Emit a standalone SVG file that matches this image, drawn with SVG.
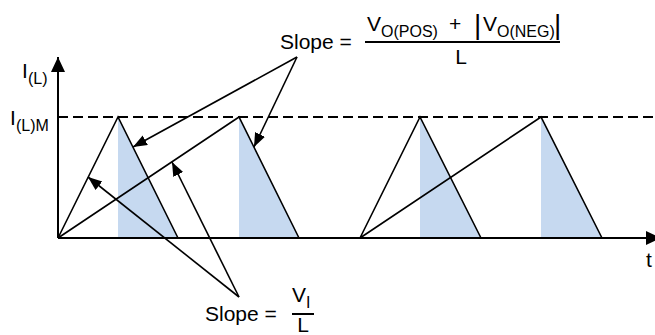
<svg xmlns="http://www.w3.org/2000/svg" width="655" height="335" viewBox="0 0 655 335">
<style>
.t{font-family:"Liberation Sans",Arial,sans-serif;fill:#000}
.big{font-size:21px}
.sub{font-size:16px}
.ln{stroke:#000;stroke-width:1.6;fill:none}
.ax{stroke:#000;stroke-width:2;fill:none}
.sh{fill:#c6d9f0;stroke:none}
</style>
<defs>
<marker id="ah" markerUnits="userSpaceOnUse" markerWidth="15" markerHeight="12" refX="14" refY="5.5" orient="auto">
<path d="M0,0 L14,5.5 L0,11 z" fill="#000"/>
</marker>
<marker id="axh" markerUnits="userSpaceOnUse" markerWidth="16" markerHeight="14" refX="15" refY="7" orient="auto">
<path d="M0,0 L15,7 L0,14 z" fill="#000"/>
</marker>
</defs>
<g id="shading">
<polygon class="sh" points="118,117 118,238 178,238"/>
<polygon class="sh" points="239,117 239,238 299,238"/>
<polygon class="sh" points="420,117 420,238 481,238"/>
<polygon class="sh" points="541,117 541,238 602,238"/>
</g>
<g id="axes">
<line class="ax" x1="58" y1="238" x2="58" y2="57" marker-end="url(#axh)"/>
<line class="ax" x1="58" y1="238" x2="661" y2="238" marker-end="url(#axh)"/>
<line class="ax" x1="58" y1="117" x2="655" y2="117" stroke-dasharray="10 5"/>
</g>
<g id="waveform">
<polyline class="ln" points="58,238 118,117 178,238"/>
<polyline class="ln" points="58,238 239,117 299,238"/>
<polyline class="ln" points="360,238 420,117 481,238"/>
<polyline class="ln" points="360,238 541,117 602,238"/>
</g>
<g id="connectors">
<line class="ln" x1="297" y1="57" x2="133" y2="147" marker-end="url(#ah)"/>
<line class="ln" x1="297" y1="57" x2="254" y2="147" marker-end="url(#ah)"/>
<line class="ln" x1="239" y1="297" x2="88" y2="177" marker-end="url(#ah)"/>
<line class="ln" x1="239" y1="297" x2="172" y2="162" marker-end="url(#ah)"/>
</g>
<g id="label-il">
<text class="t big" x="22" y="78">I</text>
<text class="t sub" x="28" y="84">(L)</text>
</g>
<g id="label-ilm">
<text class="t big" x="10" y="125">I</text>
<text class="t sub" x="16" y="131">(L)M</text>
</g>
<g id="label-t">
<text class="t big" x="646" y="267">t</text>
</g>
<g id="label-slope-top">
<text class="t big" x="280" y="49">Slope =</text>
<text class="t big" x="367" y="31">V</text>
<text class="t sub" x="381" y="37">O(POS)</text>
<text class="t big" x="449" y="31">+</text>
<text class="t" style="font-size:28px" x="474" y="34">|</text>
<text class="t big" x="483" y="31">V</text>
<text class="t sub" x="497" y="37">O(NEG)</text>
<text class="t" style="font-size:28px" x="554" y="34">|</text>
<line x1="365" y1="42" x2="560" y2="42" stroke="#000" stroke-width="2"/>
<text class="t big" x="461" y="64" text-anchor="middle">L</text>
</g>
<g id="label-slope-bottom">
<text class="t big" x="205" y="321">Slope =</text>
<text class="t big" x="292" y="302">V</text>
<text class="t sub" x="306" y="308">I</text>
<line x1="292" y1="314" x2="314" y2="314" stroke="#000" stroke-width="2"/>
<text class="t big" x="303" y="332" text-anchor="middle">L</text>
</g>
</svg>
